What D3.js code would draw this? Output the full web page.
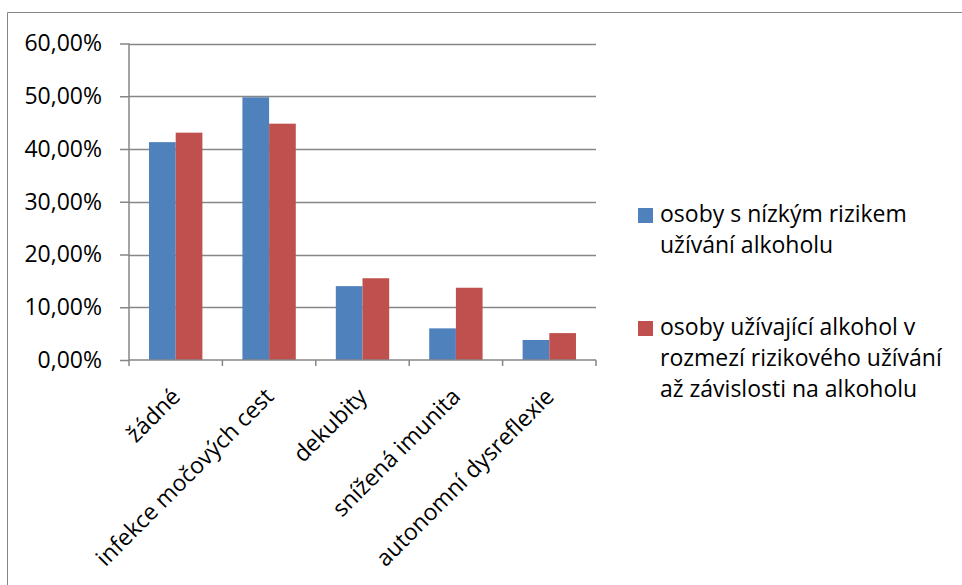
<!DOCTYPE html>
<html>
<head>
<meta charset="utf-8">
<script src="https://cdn.jsdelivr.net/npm/d3@7"></script>
<style>
  body { margin: 0; background: #fff; }
  text { font-family: "Open Sans", sans-serif; fill: #000; }
</style>
</head>
<body>
<svg id="graph"></svg>
<script>
var categories = ["žádné", "infekce močových cest", "dekubity", "snížená imunita", "autonomní dysreflexie"];
var lowRisk = [0.413, 0.498, 0.140, 0.060, 0.038];
var highRisk = [0.431, 0.448, 0.155, 0.137, 0.051];
var seriesNames = [
    ["osoby s nízkým rizikem", "užívání alkoholu"],
    ["osoby užívající alkohol v", "rozmezí rizikového užívání", "až závislosti na alkoholu"]
];
var colors = ["#4F81BD", "#C0504D"];
var yTicks = [0, 0.1, 0.2, 0.3, 0.4, 0.5, 0.6];
var fs = 23;

function drawChart() {
    var width = 962, height = 585;
    var svg = d3.select("#graph").attr("width", width).attr("height", height);

    // outer chart border (right and bottom fall outside the picture)
    svg.append("path")
        .attr("d", "M7.5,600 V12.5 H970")
        .attr("fill", "none")
        .attr("stroke", "#868686")
        .attr("stroke-width", 1);

    var left = 129, right = 596, top = 43.5, bottom = 360;

    var x = d3.scaleBand().domain(categories).range([left, right]).paddingInner(0).paddingOuter(0);
    var y = d3.scaleLinear().domain([0, 0.6]).range([bottom, top]);
    // two bars per category, gap width 150%
    var xs = d3.scaleBand().domain([0, 1]).range([0, x.bandwidth()]).paddingOuter(0.75).paddingInner(0);

    var fmt = function (v) { return d3.format(".2f")(v * 100).replace(".", ",") + "%"; };

    // gridlines
    svg.append("g").selectAll("line")
        .data(yTicks.filter(d => d > 0))
        .enter().append("line")
        .attr("x1", left).attr("x2", right)
        .attr("y1", d => Math.round(y(d)) + 0.5).attr("y2", d => Math.round(y(d)) + 0.5)
        .attr("stroke", "#868686").attr("stroke-width", 1.5);

    // bars
    var data = categories.map((c, i) => ({ cat: c, vals: [lowRisk[i], highRisk[i]] }));
    var gc = svg.append("g").selectAll("g")
        .data(data)
        .enter().append("g")
        .attr("transform", d => "translate(" + x(d.cat) + ",0)");
    gc.selectAll("rect")
        .data(d => d.vals.map((v, j) => ({ v: v, j: j })))
        .enter().append("rect")
        .attr("x", d => xs(d.j))
        .attr("width", xs.bandwidth())
        .attr("y", d => y(d.v))
        .attr("height", d => y(0) - y(d.v))
        .attr("fill", d => colors[d.j]);

    // y axis
    var yAxis = svg.append("g")
        .attr("transform", "translate(" + left + ",0)")
        .call(d3.axisLeft(y).tickValues(yTicks).tickFormat(fmt).tickSize(9).tickPadding(18));
    yAxis.selectAll("path,line").attr("stroke", "#868686").attr("stroke-width", 1.5);
    yAxis.select(".domain").attr("d", "M0," + top + "V" + bottom);
    yAxis.selectAll("text").attr("font-size", fs).style("font-family", "Open Sans").attr("fill", "#000");

    // x axis
    var xAxis = svg.append("g")
        .attr("transform", "translate(0," + bottom + ")");
    xAxis.append("line")
        .attr("x1", left).attr("x2", right)
        .attr("stroke", "#868686").attr("stroke-width", 1.5);
    xAxis.selectAll(".tk")
        .data(d3.range(categories.length + 1))
        .enter().append("line")
        .attr("class", "tk")
        .attr("x1", i => left + i * x.step()).attr("x2", i => left + i * x.step())
        .attr("y1", 0).attr("y2", 6)
        .attr("stroke", "#868686").attr("stroke-width", 1.5);
    xAxis.selectAll("text")
        .data(categories)
        .enter().append("text")
        .attr("font-size", fs)
        .attr("text-anchor", "end")
        .attr("transform", d => "translate(" + (x(d) + x.bandwidth() / 2 + 6) + ",38) rotate(-45)")
        .text(d => d);

    // legend
    var legend = svg.append("g");
    var lineH = 31;
    var starts = [215, 328];
    seriesNames.forEach(function (lines, i) {
        legend.append("rect")
            .attr("x", 638).attr("y", starts[i] - 7)
            .attr("width", 15).attr("height", 15)
            .attr("fill", colors[i]);
        var t = legend.append("text")
            .attr("font-size", fs)
            .attr("x", 660).attr("y", starts[i]);
        lines.forEach(function (s, k) {
            t.append("tspan").attr("x", 660).attr("y", starts[i] + k * lineH).attr("dy", "0.3em").text(s);
        });
    });
}

drawChart();
</script>
</body>
</html>
